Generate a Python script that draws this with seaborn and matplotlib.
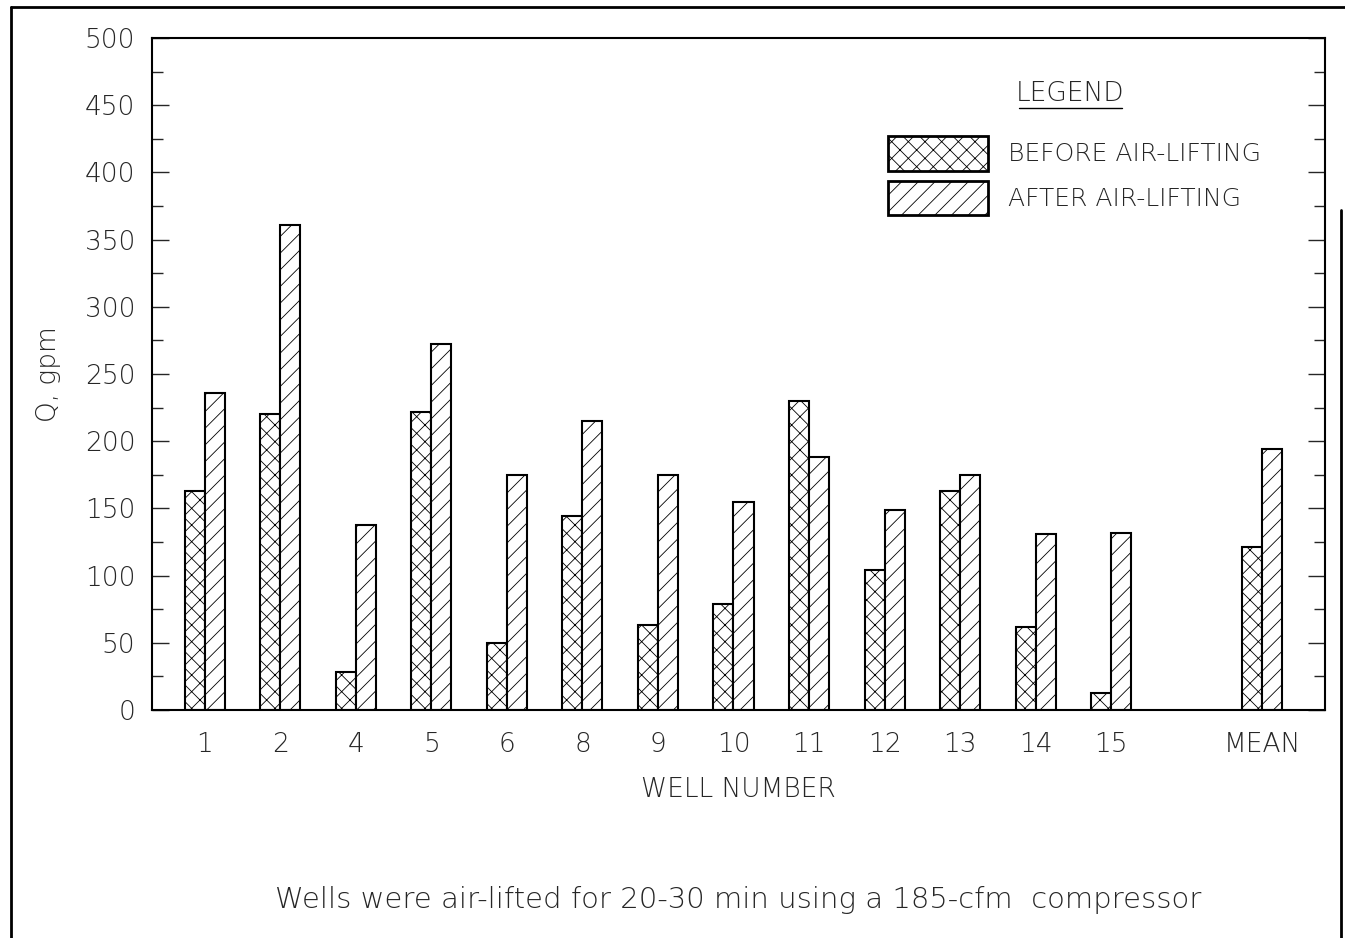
import numpy as np
import pandas as pd
import matplotlib
matplotlib.use("Agg")
import matplotlib.pyplot as plt
from matplotlib.patches import Patch
from matplotlib.lines import Line2D
import seaborn as sns

# data
wells = ["1", "2", "4", "5", "6", "8", "9", "10", "11", "12", "13", "14", "15", "", "MEAN"]
before = [163, 220, 28, 222, 50, 144, 63, 79, 230, 104, 163, 62, 13, np.nan, 121]
after = [236, 361, 138, 272, 175, 215, 175, 155, 188, 149, 175, 131, 132, np.nan, 194]
periods = ["BEFORE AIR-LIFTING", "AFTER AIR-LIFTING"]
hatches = ["xx", "//"]

df = pd.DataFrame({
    "well": wells * 2,
    "Q": before + after,
    "period": [periods[0]] * len(wells) + [periods[1]] * len(wells),
})

sns.set_style("white")
plt.rcParams["font.family"] = ["DejaVu Sans"]
plt.rcParams["font.weight"] = "ultralight"
plt.rcParams["axes.labelweight"] = "ultralight"
plt.rcParams["hatch.linewidth"] = 0.6

fig = plt.figure(figsize=(13.45, 9.38), dpi=100)
ax = fig.add_axes([0.113, 0.2431, 0.872, 0.7164])

sns.barplot(data=df, x="well", y="Q", hue="period", order=wells, hue_order=periods,
            palette=["white", "white"], edgecolor="black", linewidth=1.5,
            width=0.53, saturation=1, legend=False, ax=ax)

for cont, h in zip(ax.containers, hatches):
    for bar in cont:
        bar.set_hatch(h)

ax.set_xlim(-0.70, 14.83)
ax.set_ylim(0, 500)
ax.set_yticks(np.arange(0, 501, 50))
ax.set_yticks(np.arange(0, 501, 25), minor=True)
ax.tick_params(axis="y", which="both", direction="in", left=True, right=True,
               labelsize=19, pad=12, width=1)
ax.tick_params(axis="y", which="major", length=12)
ax.tick_params(axis="y", which="minor", length=8)
ax.tick_params(axis="x", length=0, labelsize=19, pad=16)
for s in ax.spines.values():
    s.set_linewidth(1.5)
    s.set_color("black")

ax.set_xlabel("WELL NUMBER", fontsize=19, labelpad=14)
ax.set_ylabel("Q, gpm", fontsize=19, labelpad=17)

# legend
ax.text(0.7826, 0.9167, "LEGEND", transform=ax.transAxes, ha="center", va="center", fontsize=19)
ax.add_line(Line2D([0.739, 0.827], [0.8958, 0.8958], transform=ax.transAxes, color="black", lw=1))
handles = [Patch(facecolor="white", edgecolor="black", hatch=h, lw=2) for h in hatches]
ax.legend(handles, periods, loc="upper left", bbox_to_anchor=(0.6274, 0.8542),
          frameon=False, fontsize=18, handlelength=4.0, handleheight=1.75,
          labelspacing=0.4, handletextpad=0.8, borderpad=0, borderaxespad=0)

fig.text(0.5487, 0.0405, "Wells were air-lifted for 20-30 min using a 185-cfm  compressor",
         ha="center", va="center", fontsize=21)

# outer frame of the page
fig.add_artist(Line2D([0.008, 0.008], [0, 0.9925], transform=fig.transFigure, color="black", lw=2))
fig.add_artist(Line2D([0.008, 1.0], [0.9925, 0.9925], transform=fig.transFigure, color="black", lw=2))
fig.add_artist(Line2D([0.997, 0.997], [0, 0.776], transform=fig.transFigure, color="black", lw=2))

fig.savefig("out.png", dpi=100)
